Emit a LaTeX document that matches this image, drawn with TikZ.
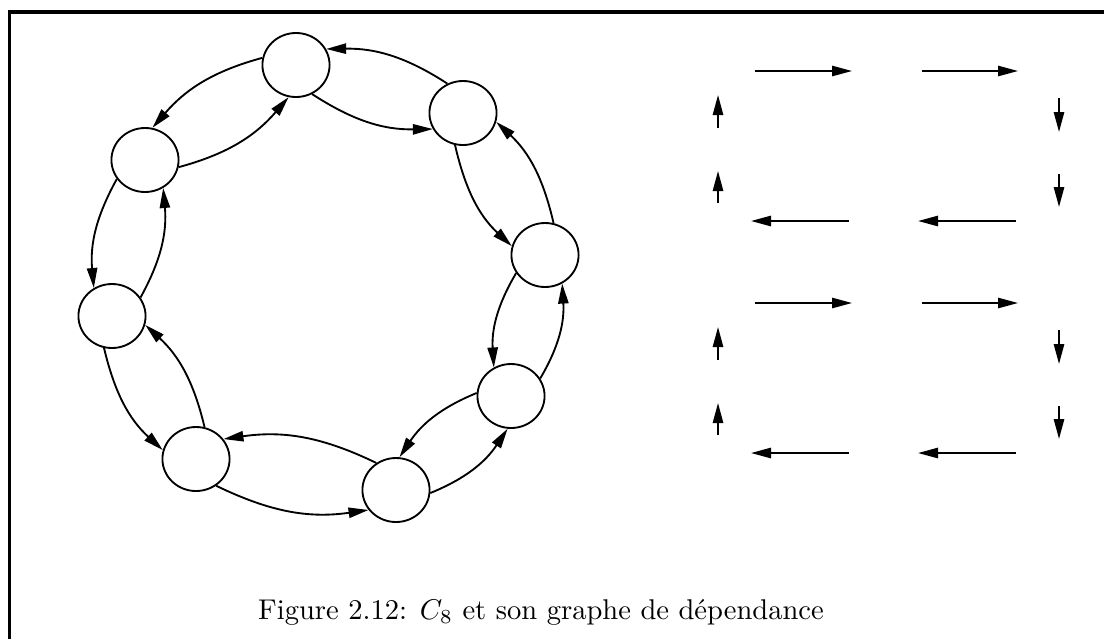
\documentclass[tikz,border=0pt]{standalone}
\usepackage{amsmath,amssymb}
\usepackage{fontspec}
\usepackage{tikz}
\usetikzlibrary{arrows.meta,shapes.geometric,calc}

\begin{document}
\begin{tikzpicture}[x=0.35pt,y=-0.35pt,
  etat/.style={draw,ellipse,line width=0.65pt,minimum width=23.5pt,minimum height=22.4pt,inner sep=0pt},
  dep/.style={-{Triangle[length=7pt,width=3.6pt]},line width=0.65pt}]
\useasboundingbox (0,0) rectangle (1104,639);
\draw[line width=1.1pt] (9.5,639) -- (9.5,12) -- (1104,12);
% le cycle C8
\foreach \n/\x/\y in {1/296/65,2/145/160,3/112/316,4/196/459,5/396/490,6/511/396,7/545/255,8/463/113}
  \node[etat] (c\n) at (\x,\y) {};
\foreach \a/\b in {1/2,2/3,3/4,4/5,5/6,6/7,7/8,8/1}{
  \draw[dep] let \p1=($(c\b)-(c\a)$), \n1={atan2(\y1,\x1)} in
    (c\a.{\n1-45}) to[out=\n1-17,in=\n1+197] (c\b.{\n1+225});
  \draw[dep] let \p1=($(c\a)-(c\b)$), \n1={atan2(\y1,\x1)} in
    (c\b.{\n1-45}) to[out=\n1-17,in=\n1+197] (c\a.{\n1+225});
}
% graphe de dependance
\foreach \k in {0,1}{
  \foreach \i/\xa/\ya/\xb/\yb in {1/755/71/852/71,2/922/71/1018/71,3/718/128/718/95,4/718/203/718/171,
                                  5/1059/98/1059/132,6/1059/174/1059/207,7/849/221/751/221,8/1016/221/918/221}{
    \coordinate (d\k\i a) at (\xa,{\ya+232*\k});
    \coordinate (d\k\i b) at (\xb,{\yb+232*\k});
    \draw[dep] (d\k\i a) -- (d\k\i b);
  }
}
\node (legende) at (541,612) {Figure 2.12: $C_8$ et son graphe de dépendance};
\end{tikzpicture}
\end{document}
